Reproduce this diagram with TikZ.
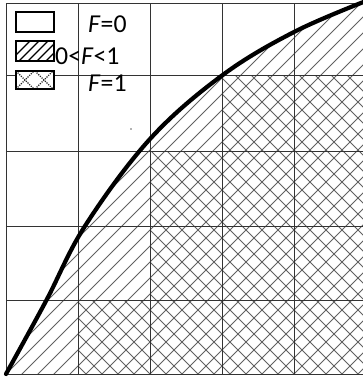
\documentclass[tikz,border=0pt]{standalone}
\usepackage{fontspec}
\setmainfont{Carlito}
\begin{document}
\begin{tikzpicture}[x=0.03cm,y=-0.03cm,
  gridline/.style={draw=black!80, line width=0.8pt},
  hatchline/.style={draw=black!62, line width=0.85pt},
  curveline/.style={draw=black, line width=3.6pt, line cap=round, line join=round},
  legfill/.style={fill=white},
  legbox/.style={draw=black, line width=1.6pt},
  leghatch/.style={draw=black, line width=1.2pt},
  legcross/.style={draw=black!85, line width=1pt, densely dotted},
  lbl/.style={anchor=west, inner sep=0pt, font=\fontsize{22}{25}\selectfont}]
\useasboundingbox (0,0) rectangle (363,381);
% single hatching under the curve
\begin{scope}
  \clip plot[smooth, tension=0.6] coordinates {(6,374) (46,301) (85,226) (150,139) (222,75.5) (294,32) (366,1)} -- (366,374) -- cycle;
  \foreach \c in {-400,-384,...,400} \draw[hatchline] (\c,380) -- (\c+380,0);
\end{scope}
% cross hatching where F=1
\begin{scope}
  \clip (78,300) rectangle (150,374) (150,151) rectangle (222,374) (222,75.5) rectangle (366,374);
  \foreach \c in {-400,-384,...,400} \draw[hatchline] (\c,0) -- (\c+380,380);
\end{scope}
% grid
\foreach \x in {6,78,150,222,294,366} \draw[gridline] (\x,3) -- (\x,374);
\foreach \y in {3,75.5,151,226,300,374} \draw[gridline] (6,\y) -- (366,\y);
% curve
\draw[curveline] plot[smooth, tension=0.6] coordinates {(6,374) (46,301) (85,226) (150,139) (222,75.5) (294,32) (366,1)};
\fill[black!60] (131,129) circle (0.8);
% legend
\draw[legbox, legfill] (16,12) rectangle (54,32);
\fill[legfill] (16,41) rectangle (54,61);
\begin{scope}
  \clip (16,41) rectangle (54,61);
  \foreach \c in {10,19,...,64} \draw[leghatch] (\c,61) -- (\c+20,41);
\end{scope}
\draw[legbox] (16,41) rectangle (54,61);
\fill[legfill] (16,71) rectangle (54,89);
\begin{scope}
  \clip (16,71) rectangle (54,89);
  \foreach \c in {16,35} {
    \draw[legcross] (\c,71) -- (\c+18,89);
    \draw[legcross] (\c,89) -- (\c+18,71);
  }
\end{scope}
\draw[legbox] (16,71) rectangle (54,89);
\node[lbl] (l0) at (88,24) {\textit{F}=0};
\node[lbl] (l1) at (55,56) {0<\textit{F}<1};
\node[lbl] (l2) at (88,83) {\textit{F}=1};
\end{tikzpicture}
\end{document}
